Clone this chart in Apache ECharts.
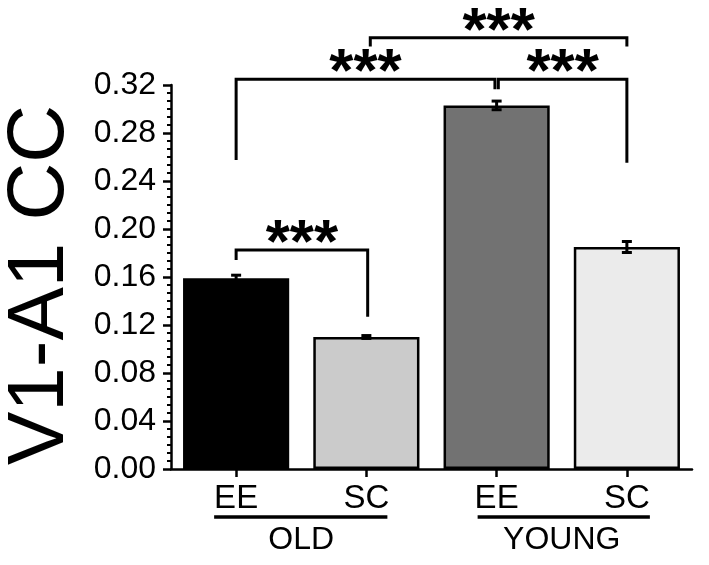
<!DOCTYPE html>
<html>
<head>
<meta charset="utf-8">
<script src="https://cdn.jsdelivr.net/npm/echarts@6/dist/echarts.min.js"></script>
<style>
html,body{margin:0;padding:0;background:#fff;}
#chart{width:709px;height:565px;}
</style>
</head>
<body>
<div id="chart"></div>
<script>
// ---- data ----
const categories = ['EE', 'SC', 'EE', 'SC'];
const groups = ['OLD', 'YOUNG'];
const means = [0.159, 0.110, 0.303, 0.185];
const errors = [0.0025, 0.0012, 0.0036, 0.0046];
const barColors = ['#000000', '#cbcbcb', '#727272', '#ebebeb'];
const yMin = 0, yMax = 0.32, yStep = 0.04;
const yTitle = 'V1-A1 CC';
// brackets: [xStart, xEnd, yBar, yLeftEnd, yRightEnd] in category-index / value units
const brackets = [
  [1.03, 3.0, 0.3594, 0.3520, 0.3520],
  [0.0, 1.987, 0.3247, 0.2575, 0.3164],
  [2.013, 3.0, 0.3247, 0.3164, 0.2553],
  [0.0, 1.01, 0.1825, 0.1742, 0.1269]
];
const bracketLabels = ['***', '***', '***', '***'];

const FONT = '"Liberation Sans", Arial, sans-serif';
const chart = echarts.init(document.getElementById('chart'), null, {renderer: 'canvas'});

const option = {
  animation: false,
  backgroundColor: '#ffffff',
  grid: {left: 171, right: 17, top: 85, bottom: 96, containLabel: false},
  xAxis: [
    {
      type: 'category', data: categories, position: 'bottom',
      axisLine: {show: true, onZero: false, lineStyle: {color: '#000', width: 2.5}},
      axisTick: {show: true, alignWithLabel: true, length: 8, lineStyle: {color: '#000', width: 2.5}},
      axisLabel: {color: '#000', fontSize: 33, fontFamily: FONT, margin: 13, interval: 0},
      splitLine: {show: false}
    },
    {
      type: 'category', data: groups, position: 'bottom',
      axisLine: {show: false, onZero: false}, axisTick: {show: false},
      axisLabel: {color: '#000', fontSize: 32, fontFamily: FONT, margin: 55, interval: 0},
      splitLine: {show: false}
    },
    {
      type: 'value', min: -0.5, max: 3.5, show: false
    }
  ],
  yAxis: {
    type: 'value', min: yMin, max: yMax, interval: yStep,
    axisLine: {show: true, onZero: false, lineStyle: {color: '#000', width: 2.5}},
    axisTick: {show: true, length: 8, lineStyle: {color: '#000', width: 2.5}},
    minorTick: {show: true, splitNumber: 6, length: 4, lineStyle: {color: '#000', width: 2}},
    axisLabel: {color: '#000', fontSize: 32, fontFamily: FONT, margin: 15,
      formatter: v => v.toFixed(2)},
    splitLine: {show: false}
  },
  series: [
    {
      type: 'bar', xAxisIndex: 0,
      barCategoryGap: '18.5%',
      data: means.map((v, i) => ({value: v, itemStyle: {color: barColors[i]}})),
      itemStyle: {borderColor: '#000', borderWidth: 2.5}
    },
    {
      type: 'custom', xAxisIndex: 0, z: 5,
      data: means.map((m, i) => [i, m - errors[i], m + errors[i]]),
      renderItem: function (params, api) {
        const lo = api.coord([api.value(0), api.value(1)]);
        const hi = api.coord([api.value(0), api.value(2)]);
        const hw = 5;
        const st = {stroke: '#000', lineWidth: 3};
        return {type: 'group', children: [
          {type: 'line', shape: {x1: lo[0], y1: lo[1], x2: hi[0], y2: hi[1]}, style: st},
          {type: 'line', shape: {x1: lo[0] - hw, y1: lo[1], x2: lo[0] + hw, y2: lo[1]}, style: st},
          {type: 'line', shape: {x1: hi[0] - hw, y1: hi[1], x2: hi[0] + hw, y2: hi[1]}, style: st}
        ]};
      }
    },
    {
      type: 'custom', xAxisIndex: 2, z: 6, clip: false,
      data: brackets,
      encode: {x: [0, 1], y: [2, 3, 4]},
      renderItem: function (params, api) {
        const x1 = api.value(0), x2 = api.value(1);
        const yb = api.value(2), yl = api.value(3), yr = api.value(4);
        const pL0 = api.coord([x1, yl]), pL1 = api.coord([x1, yb]);
        const pR1 = api.coord([x2, yb]), pR0 = api.coord([x2, yr]);
        const mid = api.coord([(x1 + x2) / 2, yb]);
        return {type: 'group', children: [
          {type: 'polyline', shape: {points: [pL0, pL1, pR1, pR0]},
            style: {stroke: '#000', lineWidth: 3, fill: null, lineJoin: 'miter'}},
          {type: 'text', x: mid[0], y: mid[1] - 5,
            style: {text: bracketLabels[params.dataIndex], fill: '#000',
              font: 'bold 62px ' + FONT, align: 'center', verticalAlign: 'middle',
              textAlign: 'center', textVerticalAlign: 'middle'}}
        ]};
      }
    }
  ]
};
chart.setOption(option);

// underlines below the subgroup labels and the rotated axis title
const p0 = chart.convertToPixel({xAxisIndex: 0}, 0);
const p1 = chart.convertToPixel({xAxisIndex: 0}, 1);
const p2 = chart.convertToPixel({xAxisIndex: 0}, 2);
const p3 = chart.convertToPixel({xAxisIndex: 0}, 3);
const yBase = chart.convertToPixel({yAxisIndex: 0}, 0);
const uy = yBase + 48;
chart.setOption({
  graphic: [
    {type: 'line', shape: {x1: p0 - 22, y1: uy, x2: p1 + 21, y2: uy}, style: {stroke: '#000', lineWidth: 3.5}},
    {type: 'line', shape: {x1: p2 - 19, y1: uy, x2: p3 + 23, y2: uy}, style: {stroke: '#000', lineWidth: 3.5}},
    {type: 'text', x: 41, y: 285, rotation: Math.PI / 2,
      style: {text: yTitle, fill: '#000', font: '80px ' + FONT,
        align: 'center', verticalAlign: 'middle', textAlign: 'center', textVerticalAlign: 'middle'}}
  ]
});
</script>
</body>
</html>
